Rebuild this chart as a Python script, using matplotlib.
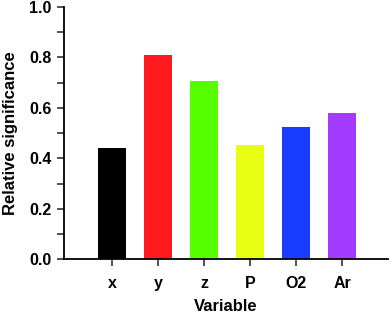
import matplotlib
matplotlib.use("Agg")
import matplotlib.pyplot as plt
from matplotlib.ticker import MultipleLocator

categories = ["x", "y", "z", "P", "O2", "Ar"]
values = [0.44, 0.811, 0.705, 0.452, 0.524, 0.579]
colors = ["#000000", "#ff1a1f", "#55ff00", "#e8ff14", "#1a3cff", "#a33cff"]

plt.rcParams['font.family'] = ['Liberation Sans', 'DejaVu Sans']
plt.rcParams['font.weight'] = 'bold'

fig = plt.figure(figsize=(3.9, 3.13), dpi=100)
ax = fig.add_axes([0.164, 0.1716, 0.831, 0.806])
pos = list(range(len(categories)))
ax.bar(pos, values, width=0.6, color=colors)
ax.set_xlim(-1.04, 6.0)
ax.set_ylim(0, 1.0)
ax.set_xticks(pos)
ax.set_xticklabels(categories, fontweight='bold', fontsize=11.5)
ax.yaxis.set_major_locator(MultipleLocator(0.2))
ax.yaxis.set_minor_locator(MultipleLocator(0.1))
ax.set_yticklabels([f"{v:.1f}" for v in ax.get_yticks()], fontweight='bold', fontsize=11.5)
for s in ['top', 'right']:
    ax.spines[s].set_visible(False)
for s in ['left', 'bottom']:
    ax.spines[s].set_linewidth(1.3)
ax.tick_params(axis='both', which='both', direction='out', width=1.2, colors='#333333', labelcolor='black')
ax.tick_params(axis='y', which='major', length=5, pad=4)
ax.tick_params(axis='y', which='minor', length=5)
ax.tick_params(axis='x', which='major', length=5, pad=7)
ax.set_ylabel("Relative significance", fontweight='bold', fontsize=12, labelpad=8)
ax.set_xlabel("Variable", fontweight='bold', fontsize=12, labelpad=6)
fig.savefig("out.png", dpi=100)
